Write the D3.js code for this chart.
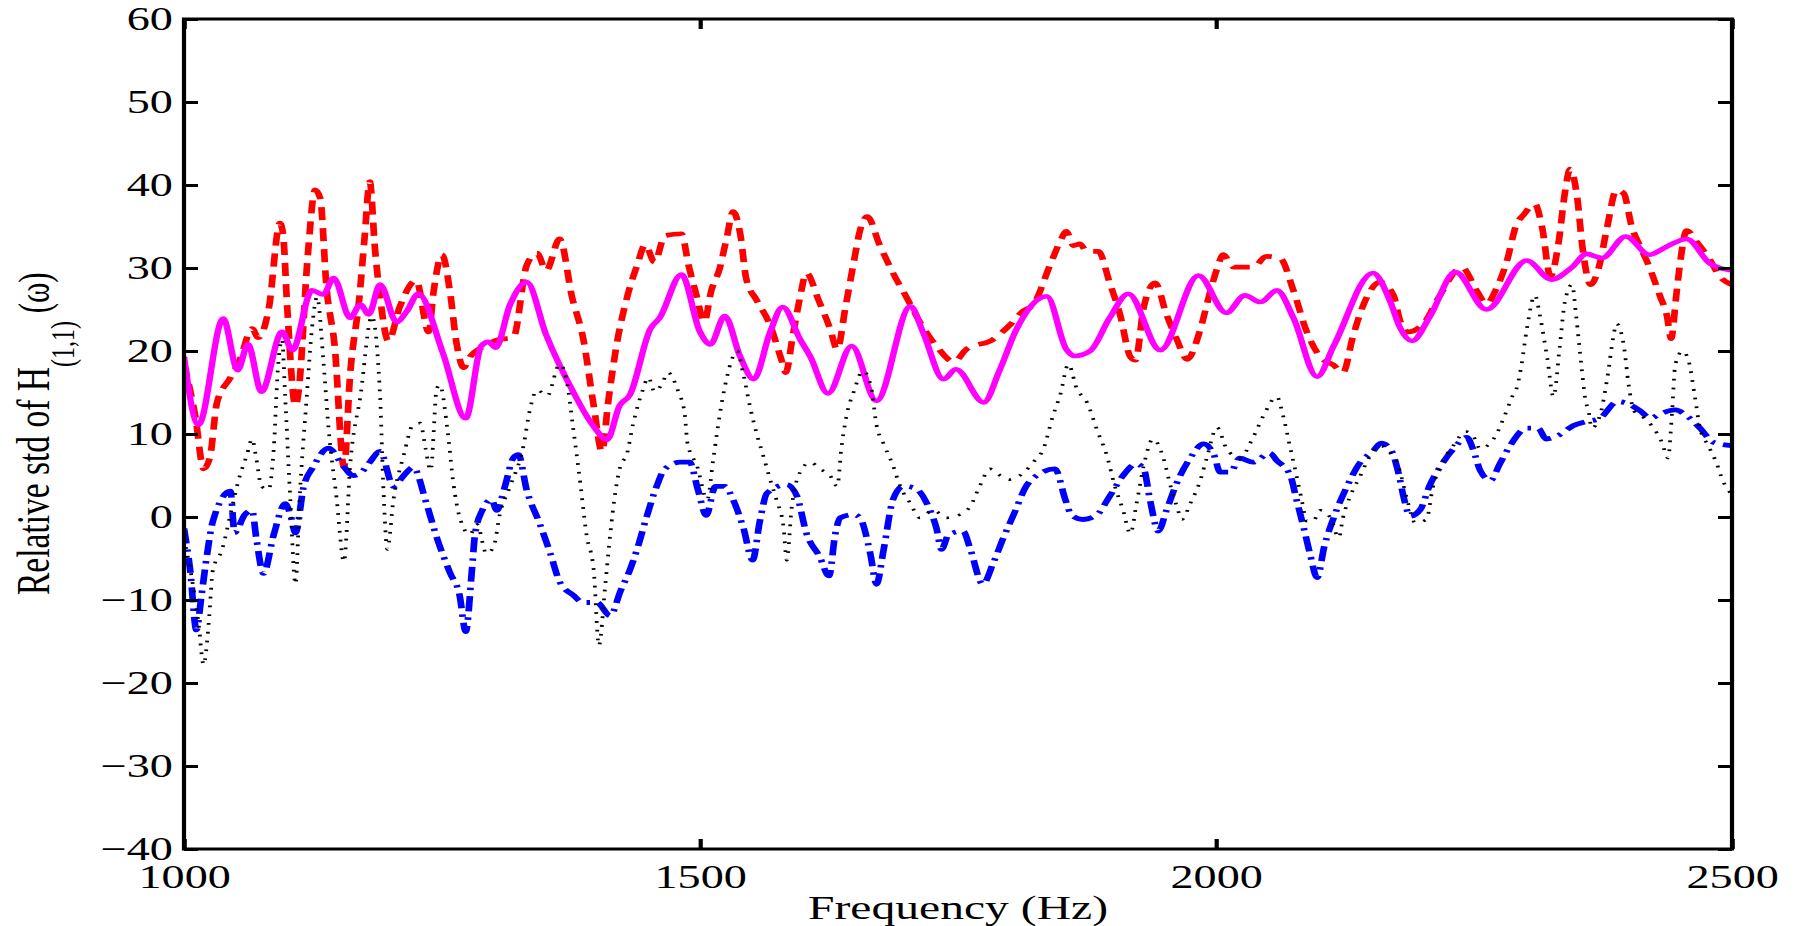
<!DOCTYPE html>
<html>
<head>
<meta charset="utf-8">
<script src="https://cdn.jsdelivr.net/npm/d3@7"></script>
<style>
  body { margin: 0; background: #fff; }
</style>
</head>
<body>
<div id="chart"></div>
<script>
// tick values
const freqTicks = [1000, 1500, 2000, 2500];
const stdTicks = [-40, -30, -20, -10, 0, 10, 20, 30, 40, 50, 60];

// [frequency (Hz), relative std]
const redDashed = [
    [1000, 18.5], [1011, 12.1], [1019, 5.8], [1025, 7.1], [1032, 13.8], [1045, 16.8], [1054, 18.9],
    [1066, 22.7], [1072, 21.6], [1082, 25.0], [1093, 35.4], [1096, 34.1], [1100, 25.3], [1108, 13.4],
    [1111, 15.1], [1120, 31.6], [1127, 39.4], [1132, 38.4], [1138, 27.8], [1146, 20.6], [1155, 6.0],
    [1161, 17.2], [1170, 26.5], [1175, 33.7], [1180, 40.4], [1185, 32.4], [1190, 26.5], [1198, 21.2],
    [1209, 25.3], [1225, 28.5], [1237, 22.3], [1242, 27.3], [1250, 31.6], [1258, 26.9], [1264, 21.0],
    [1271, 18.0], [1277, 19.3], [1288, 20.4], [1306, 21.4], [1319, 21.6], [1332, 30.3], [1342, 31.8],
    [1351, 29.7], [1364, 33.5], [1376, 26.5], [1387, 21.4], [1397, 13.4], [1405, 7.9], [1411, 13.8],
    [1419, 20.6], [1429, 26.3], [1439, 30.3], [1447, 32.8], [1456, 30.7], [1466, 33.9], [1482, 34.1],
    [1489, 30.3], [1497, 26.5], [1504, 23.5], [1511, 27.3], [1519, 29.9], [1526, 33.7], [1532, 36.8],
    [1539, 34.1], [1545, 28.6], [1555, 26.1], [1568, 23.1], [1579, 18.9], [1583, 17.4], [1590, 21.9],
    [1597, 26.5], [1603, 29.4], [1615, 26.1], [1626, 22.7], [1633, 20.2], [1641, 25.3], [1649, 30.7],
    [1655, 34.5], [1662, 36.2], [1674, 32.8], [1687, 29.4], [1700, 26.5], [1713, 23.5], [1729, 20.6],
    [1746, 18.7], [1758, 20.2], [1784, 21.4], [1800, 23.1], [1813, 24.8], [1823, 25.6], [1839, 30.3],
    [1849, 33.2], [1855, 34.4], [1862, 32.7], [1868, 32.9], [1875, 32.0], [1886, 32.0], [1897, 28.2],
    [1907, 24.4], [1917, 19.3], [1922, 18.9], [1930, 25.3], [1941, 28.2], [1952, 24.4], [1962, 21.4],
    [1972, 19.0], [1985, 22.7], [1993, 26.5], [2001, 29.9], [2007, 31.6], [2017, 30.1], [2036, 30.1],
    [2049, 31.4], [2062, 31.2], [2075, 27.3], [2088, 22.3], [2101, 19.3], [2114, 18.3], [2123, 17.4],
    [2133, 21.9], [2143, 25.6], [2159, 28.3], [2172, 26.7], [2178, 23.8], [2186, 22.3], [2201, 23.3],
    [2217, 26.7], [2238, 30.1], [2253, 27.2], [2262, 25.7], [2272, 27.6], [2282, 30.9], [2291, 35.2],
    [2298, 36.4], [2309, 37.7], [2316, 34.9], [2324, 29.0], [2332, 33.1], [2338, 39.0], [2343, 41.9],
    [2350, 38.5], [2355, 32.6], [2363, 28.0], [2371, 30.1], [2379, 34.9], [2388, 39.4], [2395, 39.0],
    [2403, 34.9], [2411, 32.6], [2420, 30.1], [2430, 26.7], [2437, 24.2], [2441, 21.5], [2446, 26.7],
    [2450, 30.9], [2456, 34.5], [2466, 33.1], [2479, 30.9], [2488, 29.0], [2500, 28.0]
];

const magentaSolid = [
    [1000, 19.3], [1014, 11.1], [1038, 23.9], [1052, 17.7], [1062, 20.8], [1075, 15.1], [1095, 22.3],
    [1105, 20.1], [1124, 27.3], [1135, 26.8], [1145, 28.8], [1161, 24.0], [1171, 25.6], [1179, 24.4],
    [1190, 28.0], [1206, 23.5], [1216, 24.8], [1227, 26.9], [1251, 19.7], [1273, 11.9], [1288, 20.6],
    [1295, 21.1], [1302, 20.4], [1316, 25.6], [1332, 28.3], [1351, 21.9], [1377, 15.1], [1397, 10.9],
    [1410, 9.3], [1422, 13.4], [1432, 14.7], [1452, 22.7], [1461, 24.0], [1482, 29.2], [1500, 22.3],
    [1510, 20.8], [1524, 24.2], [1539, 19.3], [1552, 16.6], [1568, 22.3], [1580, 25.3], [1597, 21.4],
    [1607, 19.3], [1624, 14.9], [1647, 20.6], [1671, 14.0], [1704, 25.4], [1716, 22.3], [1736, 16.6],
    [1748, 17.8], [1775, 13.8], [1790, 17.6], [1807, 22.7], [1836, 26.6], [1855, 20.2], [1863, 19.4],
    [1878, 20.0], [1897, 24.0], [1915, 26.9], [1946, 20.1], [1983, 29.1], [2010, 24.6], [2028, 26.7],
    [2043, 25.9], [2059, 27.3], [2075, 24.0], [2098, 16.9], [2114, 20.6], [2152, 29.4], [2169, 25.9],
    [2178, 22.9], [2190, 21.2], [2207, 24.1], [2232, 29.5], [2262, 25.0], [2301, 30.9], [2325, 28.6],
    [2345, 30.1], [2359, 31.7], [2374, 31.2], [2397, 33.8], [2420, 31.6], [2437, 32.6], [2456, 33.5],
    [2479, 30.5], [2500, 29.7]
];

const blueDashDot = [
    [1000, -1.4], [1006, -6.4], [1012, -13.6], [1017, -9.4], [1022, -4.8], [1028, -0.5], [1045, 3.1],
    [1049, -1.9], [1059, 0.3], [1066, 0.8], [1070, -2.5], [1077, -6.8], [1087, -2.1], [1098, 1.6],
    [1103, 0.3], [1108, -1.9], [1116, 3.7], [1125, 6.0], [1140, 8.3], [1154, 6.2], [1164, 5.0],
    [1172, 5.4], [1180, 6.6], [1190, 7.9], [1203, 3.7], [1213, 5.0], [1222, 6.0], [1235, 1.6],
    [1245, -2.5], [1258, -6.8], [1267, -9.4], [1273, -13.8], [1279, -6.4], [1282, -2.1], [1289, 0.8],
    [1298, 2.1], [1303, 0.8], [1311, 3.7], [1319, 7.1], [1324, 7.5], [1332, 3.3], [1345, -0.9],
    [1355, -4.4], [1364, -7.8], [1377, -9.4], [1387, -10.3], [1400, -10.3], [1413, -11.9], [1423, -8.9],
    [1432, -6.4], [1439, -3.9], [1448, -0.1], [1458, 3.7], [1466, 5.8], [1481, 6.6], [1490, 6.6],
    [1498, 3.3], [1506, 0.2], [1515, 3.7], [1524, 3.7], [1532, 2.1], [1542, -1.3], [1551, -5.2],
    [1558, -0.5], [1565, 2.9], [1584, 3.9], [1594, 2.5], [1603, -1.9], [1616, -4.8], [1625, -7.1],
    [1631, -2.1], [1636, -0.1], [1649, 0.3], [1655, -0.1], [1665, -4.4], [1671, -8.1], [1678, -3.9],
    [1687, 2.1], [1697, 3.7], [1708, 3.5], [1720, 1.6], [1729, -1.3], [1734, -3.9], [1741, -2.1],
    [1755, -1.7], [1762, -3.9], [1774, -8.1], [1784, -5.6], [1794, -2.5], [1804, 0.3], [1816, 3.7],
    [1829, 5.2], [1844, 5.8], [1854, 2.1], [1860, 0.2], [1871, -0.3], [1884, 0.2], [1897, 2.5],
    [1910, 5.0], [1923, 6.4], [1930, 5.8], [1936, 2.1], [1944, -1.7], [1952, 0.8], [1962, 4.1],
    [1975, 7.1], [1988, 8.8], [1998, 7.5], [2004, 5.4], [2014, 5.4], [2023, 7.1], [2036, 6.6],
    [2052, 7.7], [2059, 6.8], [2072, 5.0], [2078, 2.1], [2085, -1.3], [2091, -4.4], [2098, -7.3],
    [2105, -3.5], [2114, -0.1], [2127, 3.7], [2140, 6.6], [2152, 7.9], [2160, 8.9], [2169, 8.2],
    [2177, 5.2], [2182, 2.3], [2188, 0.1], [2198, 0.9], [2207, 3.8], [2217, 6.0], [2230, 8.2],
    [2243, 9.6], [2249, 8.2], [2256, 5.6], [2266, 4.4], [2275, 6.4], [2285, 8.6], [2301, 10.7],
    [2312, 10.7], [2320, 9.4], [2333, 9.9], [2346, 11.0], [2359, 11.5], [2372, 11.9], [2389, 13.9],
    [2400, 13.6], [2411, 12.8], [2421, 11.9], [2430, 12.4], [2445, 12.9], [2456, 12.2], [2469, 10.7],
    [2482, 9.0], [2500, 8.6]
];

const blackDotted = [
    [1000, -2.6], [1008, -7.7], [1014, -12.7], [1019, -17.8], [1024, -12.7], [1028, -6.4], [1037, -3.9],
    [1045, 0.3], [1053, 4.5], [1061, 7.5], [1066, 9.4], [1070, 7.1], [1075, 3.7], [1082, 3.3],
    [1087, 8.3], [1091, 17.9], [1095, 21.4], [1098, 14.6], [1103, 2.1], [1108, -8.1], [1112, 2.1],
    [1119, 14.6], [1124, 22.7], [1129, 26.5], [1135, 18.9], [1140, 10.8], [1148, 2.1], [1155, -5.4],
    [1161, 6.2], [1171, 14.6], [1182, 24.2], [1190, 14.6], [1193, 4.1], [1197, -3.9], [1203, 2.1],
    [1213, 7.5], [1222, 11.1], [1229, 11.3], [1234, 8.3], [1239, 5.6], [1245, 15.5], [1248, 15.9],
    [1255, 10.8], [1261, 4.1], [1267, 0.0], [1277, -2.1], [1284, -0.9], [1293, -4.4], [1300, -3.6],
    [1306, 0.3], [1316, 3.7], [1329, 8.6], [1335, 12.8], [1342, 15.3], [1352, 14.6], [1364, 18.4],
    [1371, 16.3], [1377, 10.8], [1384, 4.1], [1390, -2.1], [1397, -6.4], [1402, -15.5], [1408, -8.5],
    [1413, -2.1], [1418, 3.0], [1423, 6.2], [1429, 7.5], [1435, 11.1], [1444, 15.1], [1450, 16.8],
    [1456, 15.1], [1463, 16.0], [1469, 17.4], [1479, 15.1], [1485, 12.6], [1488, 8.8], [1497, 6.2],
    [1507, 2.1], [1513, 7.1], [1519, 12.2], [1526, 16.8], [1536, 20.0], [1542, 17.2], [1549, 13.0],
    [1555, 10.0], [1561, 7.5], [1568, 4.5], [1574, 2.1], [1581, -1.3], [1584, -5.2], [1589, 1.3],
    [1597, 5.4], [1607, 6.6], [1616, 5.8], [1626, 5.0], [1633, 3.7], [1637, 8.3], [1642, 12.2],
    [1649, 15.1], [1658, 17.6], [1666, 15.5], [1671, 11.1], [1678, 8.8], [1687, 6.2], [1694, 3.7],
    [1704, 1.6], [1713, -0.1], [1726, 0.8], [1739, -0.1], [1752, 0.3], [1762, 1.3], [1771, 3.7],
    [1781, 5.8], [1791, 5.0], [1800, 4.5], [1810, 5.0], [1823, 6.6], [1833, 8.3], [1842, 12.2],
    [1849, 14.7], [1857, 18.4], [1865, 15.5], [1875, 13.8], [1885, 10.4], [1894, 7.5], [1902, 3.7],
    [1910, 0.8], [1917, -2.0], [1923, 1.6], [1930, 6.2], [1939, 9.4], [1949, 7.1], [1956, 3.7],
    [1962, 1.3], [1967, -0.3], [1975, 1.6], [1985, 4.5], [1991, 7.1], [2001, 10.8], [2010, 8.3],
    [2023, 7.1], [2036, 9.6], [2046, 12.2], [2059, 14.5], [2065, 12.2], [2072, 8.3], [2078, 5.0],
    [2083, 2.1], [2088, -0.5], [2094, -0.5], [2101, 0.8], [2111, -0.1], [2119, -2.5], [2123, -0.1],
    [2130, 2.5], [2140, 5.0], [2146, 6.6], [2159, 8.6], [2169, 7.7], [2178, 5.6], [2185, 2.2],
    [2193, -0.7], [2204, -0.3], [2210, 3.5], [2219, 6.5], [2230, 8.6], [2242, 10.3], [2250, 9.6],
    [2256, 8.2], [2263, 8.6], [2271, 9.8], [2279, 12.0], [2287, 14.5], [2292, 15.8], [2296, 18.3],
    [2301, 22.5], [2309, 26.7], [2314, 24.2], [2321, 19.1], [2327, 14.5], [2333, 20.4], [2338, 25.9],
    [2345, 28.0], [2349, 24.2], [2354, 18.3], [2358, 14.1], [2361, 12.8], [2364, 10.7], [2372, 12.2],
    [2379, 16.6], [2385, 21.7], [2388, 23.3], [2395, 20.8], [2400, 15.8], [2405, 12.8], [2414, 12.0],
    [2424, 10.7], [2432, 9.0], [2438, 7.1], [2442, 12.8], [2445, 18.3], [2452, 20.0], [2458, 18.8],
    [2464, 14.5], [2469, 10.7], [2477, 8.6], [2485, 6.5], [2491, 4.4], [2500, 2.7]
];

const W = 1800, H = 926;
// the exported figure is stretched sideways, so draw in a narrower box and let the viewBox widen it
const stretch = 1.4;
const vw = W / stretch;
const margin = { top: 19, right: vw - 1732 / stretch, bottom: H - 849, left: 184 / stretch };
const serif = "'Liberation Serif', 'Times New Roman', Times, serif";

const svg = d3.select("#chart").append("svg")
    .attr("width", W)
    .attr("height", H)
    .attr("viewBox", "0 0 " + vw + " " + H)
    .attr("preserveAspectRatio", "none")
    .style("display", "block");

const x = d3.scaleLinear()
    .domain([1000, 2500])
    .range([margin.left, vw - margin.right]);

const y = d3.scaleLinear()
    .domain([-40, 60])
    .range([H - margin.bottom, margin.top]);

// CLIP
svg.append("clipPath").attr("id", "plot-clip")
    .append("rect")
    .attr("x", x(1000)).attr("y", y(60))
    .attr("width", x(2500) - x(1000)).attr("height", y(-40) - y(60));

// LINES
const line = d3.line()
    .x(d => x(d[0]))
    .y(d => y(d[1]))
    .curve(d3.curveMonotoneX);

const series = [
    { data: redDashed, color: "#ff0000", width: 4.8, dash: "13,8" },
    { data: magentaSolid, color: "#ff00ff", width: 4.6, dash: null },
    { data: blueDashDot, color: "#0000ff", width: 4.8, dash: "15,6,2.5,6" },
    { data: blackDotted, color: "#000000", width: 2.7, dash: "1.8,7" }
];

const plot = svg.append("g").attr("clip-path", "url(#plot-clip)");
series.forEach(s => {
    plot.append("path")
        .datum(s.data)
        .attr("fill", "none")
        .attr("stroke", s.color)
        .attr("stroke-width", s.width)
        .attr("stroke-dasharray", s.dash)
        .attr("stroke-linejoin", "round")
        .attr("d", line);
});

// AXES
function styleAxis(g) {
    g.select(".domain").remove();
    g.attr("font-family", serif).attr("font-size", 33).attr("color", "#000");
    g.selectAll(".tick line").attr("stroke-width", 3);
}

svg.append("g")
    .attr("transform", "translate(0," + y(-40) + ")")
    .call(d3.axisBottom(x).tickValues(freqTicks).tickSizeInner(-10).tickSizeOuter(0)
        .tickPadding(16).tickFormat(d3.format("d")))
    .call(styleAxis);

svg.append("g")
    .attr("transform", "translate(0," + y(60) + ")")
    .call(d3.axisTop(x).tickValues(freqTicks).tickSizeInner(-10).tickSizeOuter(0).tickFormat(""))
    .call(styleAxis);

svg.append("g")
    .attr("transform", "translate(" + x(1000) + ",0)")
    .call(d3.axisLeft(y).tickValues(stdTicks).tickSizeInner(-10).tickSizeOuter(0)
        .tickPadding(8).tickFormat(d3.format("d")))
    .call(styleAxis);

svg.append("g")
    .attr("transform", "translate(" + x(2500) + ",0)")
    .call(d3.axisRight(y).tickValues(stdTicks).tickSizeInner(-10).tickSizeOuter(0).tickFormat(""))
    .call(styleAxis);

// box
svg.append("rect")
    .attr("x", x(1000)).attr("y", y(60))
    .attr("width", x(2500) - x(1000)).attr("height", y(-40) - y(60))
    .attr("fill", "none")
    .attr("stroke", "#000")
    .attr("stroke-width", 3);

// AXES LABELS
svg.append("text")
    .attr("x", (x(1000) + x(2500)) / 2)
    .attr("y", 919)
    .attr("text-anchor", "middle")
    .attr("font-family", serif)
    .attr("font-size", 34)
    .text("Frequency (Hz)");

const ylab = svg.append("text")
    .attr("transform", "translate(" + (49 / stretch) + ",595) rotate(-90)")
    .attr("font-family", serif)
    .attr("font-size", 33.5);
ylab.append("tspan").text("Relative std of H");
ylab.append("tspan").attr("font-size", 24).attr("dy", 18).text("(1,1)");
ylab.append("tspan").attr("font-size", 31).attr("dy", -18).text(" (\u03c9)");
</script>
</body>
</html>
